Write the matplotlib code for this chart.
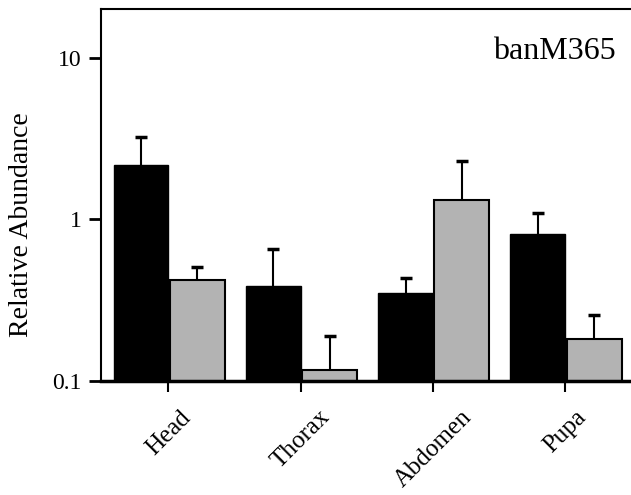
import numpy as np
import matplotlib
matplotlib.use("Agg")
import matplotlib.pyplot as plt
from matplotlib.ticker import FixedLocator, NullLocator

# Data
tissues = ["Head", "Thorax", "Abdomen", "Pupa"]
black_vals = [2.16, 0.39, 0.352, 0.81]
black_err = [1.07, 0.27, 0.084, 0.28]
gray_vals = [0.424, 0.117, 1.31, 0.182]
gray_err = [0.086, 0.073, 0.98, 0.075]
ytick_vals = [0.1, 1, 10]
ytick_labels = ["0.1", "1", "10"]

plt.rcParams["font.family"] = ["Liberation Serif", "DejaVu Serif"]

fig = plt.figure(figsize=(6.31, 4.95), dpi=100)
ax = fig.add_axes([0.160, 0.230, 0.845, 0.752])

x = np.arange(len(tissues))
w = 0.415

ax.bar(x - w, black_vals, width=w, align="edge", color="black",
       edgecolor="black", linewidth=1.0, zorder=2)
ax.bar(x + 0.01, gray_vals, width=w, align="edge", color="#b3b3b3",
       edgecolor="black", linewidth=1.5, zorder=2)

# upward error bars only
for xs, vals, err in [(x - w / 2, black_vals, black_err),
                      (x + 0.01 + w / 2, gray_vals, gray_err)]:
    _, caps, _ = ax.errorbar(xs, vals, yerr=[np.zeros(4), err], fmt="none",
                             ecolor="black", elinewidth=1.5, capsize=4,
                             capthick=2.5, zorder=3)
    caps[0].set_visible(False)

ax.set_yscale("log")
ax.set_ylim(0.1, 20)
ax.set_xlim(-0.51, 3.52)
ax.yaxis.set_major_locator(FixedLocator(ytick_vals))
ax.set_yticklabels(ytick_labels)
ax.yaxis.set_minor_locator(NullLocator())

ax.set_xticks(x)
ax.set_xticklabels(tissues, rotation=45, ha="center", fontsize=18)
ax.tick_params(axis="y", labelsize=17, length=9, width=2, direction="out", pad=5)
ax.tick_params(axis="x", length=8, width=1.5, direction="out", pad=10)

ax.spines["right"].set_visible(False)
ax.spines["top"].set_linewidth(1.5)
ax.spines["left"].set_linewidth(1.5)
ax.spines["bottom"].set_linewidth(2.5)

fig.text(22 / 631, 1 - 225 / 495, "Relative Abundance", rotation=90,
         ha="center", va="center", fontsize=20)
ax.text(0.965, 0.885, "banM365", transform=ax.transAxes, ha="right", va="center",
        fontsize=23)

fig.savefig("out.png", dpi=100)
